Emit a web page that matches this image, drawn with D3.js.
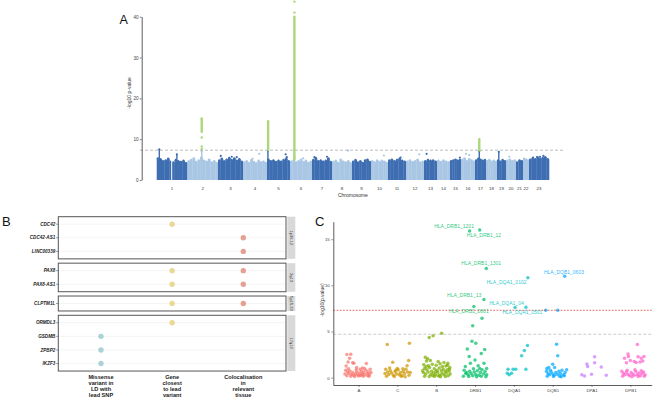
<!DOCTYPE html>
<html><head><meta charset="utf-8">
<script src="https://cdn.jsdelivr.net/npm/d3@7"></script>
<style>body{margin:0;background:#fff} svg{display:block;font-family:"Liberation Sans",Arial,Helvetica,sans-serif}</style>
</head><body><svg id="c" width="658" height="402"></svg>
<script>
// ================= Panel A data (Manhattan) =================
const chromosomes = ["1","2","3","4","5","6","7","8","9","10","11","12","13","14","15","16","17","18","19","20","21","22","23"];
// relative number of SNPs per chromosome (thousands), as read from block widths
const chromSnpK = [306,307,250,240,230,220,200,200,190,170,180,180,130,130,110,140,110,110,90,100,70,60,200];
// bulk of points: max -log10 p in consecutive bins along each chromosome
const bulkTop = [
  [5.3,5.1,4.6,4.8,5.2,4.5,4.3,4.9,4.6,4.4,4.7,4.1],
  [4.6,4.9,5.3,4.4,4.8,5.5,4.7,4.5,5.0,4.3,4.6,4.2],
  [4.8,5.2,4.6,5.0,5.4,4.9,5.3,4.7,5.1,4.5],
  [4.3,4.6,4.2,4.9,4.4,4.1,4.7,4.3,4.5,4.2],
  [5.0,4.6,4.8,4.4,4.7,4.5,4.9,5.2,4.6],
  [4.5,4.8,4.3,4.6,5.0,4.4,4.7,4.2,4.5],
  [4.9,5.4,4.6,4.8,4.5,4.7,5.3,4.4],
  [4.4,4.7,4.2,5.0,4.5,4.3,4.6,4.1],
  [4.5,4.9,4.3,4.6,4.2,4.8,5.0,4.4],
  [4.6,4.3,4.8,4.4,4.7,4.5,4.2],
  [4.8,5.0,4.6,4.9,5.2,4.7,4.5],
  [4.5,4.8,4.4,4.6,5.0,4.3,4.5],
  [4.6,4.9,4.7,4.8,4.5],
  [4.7,4.4,4.8,4.5,4.3],
  [4.6,4.8,5.0,4.7,4.9],
  [4.9,5.3,4.6,5.1,4.8,4.5],
  [4.8,5.2,5.0,4.7,4.9],
  [4.6,4.9,4.5,4.7,4.4],
  [4.8,4.5,4.9,4.6],
  [4.7,5.0,4.6,4.8],
  [4.3,4.8,4.6],
  [5.2,5.0,4.8],
  [5.0,5.3,5.1,5.5,5.2,5.4,5.6,5.1]
];
const centromereGaps = [[1,0.49]];
// narrow spikes in chromosome colour: [chr, fraction along chr, top]
const spikes = [[1,0.085,7.5],[1,0.66,6.3],[2,0.47,7.0],[5,0.04,7.2],[6,0.2,5.6],[17,0.39,7.0],[19,0.2,6.9]];
// isolated points above the bulk: [chr, fraction, value]
const outliers = [[3,0.11,5.9],[3,0.55,5.7],[3,0.75,5.6],[4,0.68,6.4],[4,0.4,5.2],[5,0.81,6.3],[5,0.86,5.6],[6,0.6,5.3],
  [7,0.12,5.6],[7,0.75,5.7],[8,0.8,7.2],[10,0.76,6.0],[11,0.7,5.5],[12,0.74,6.3],[13,0.2,6.4],[15,0.9,5.5],
  [16,0.36,6.4],[16,0.59,6.1],[20,0.33,5.7],[23,0.72,5.9],[23,0.2,5.5],[23,0.4,5.6],[23,0.55,5.7]];
// genome-wide significant columns (dense hits): [chr, fraction, min, max]
const hitRanges = [[2,0.47,11.8,15.1],[5,0.05,7.4,14.4],[6,0.2,5.0,40.0],[17,0.39,7.3,10.0]];
const hitDots = [[2,0.47,10.4],[2,0.47,8.2],[2,0.47,7.6],[6,0.2,41.0],[6,0.2,43.7]];
const gwasLineA = 7.3;
const yTicksA = [0,10,20,30,40];

// ================= Panel B data (gene prioritisation) =================
const genes = ["CDC42","CDC42-AS1","LINC00339","PAX8","PAX8-AS1","CLPTM1L","ORMDL3","GSDMB","ZPBP2","IKZF3"];
const loci = ["1p36.12","2q13","5p15.33","17q12"];
const geneLocus = [0,0,0,1,1,2,3,3,3,3];
const evidenceTypes = ["Missense variant in LD with lead SNP","Gene closest to lead variant","Colocalisation in relevant tissue"];
const evidenceLines = [["Missense","variant in","LD with","lead SNP"],["Gene","closest","to lead","variant"],["Colocalisation","in","relevant","tissue"]];
const evidence = [["CDC42",1],["CDC42-AS1",2],["LINC00339",2],["PAX8",1],["PAX8",2],["PAX8-AS1",1],["PAX8-AS1",2],
  ["CLPTM1L",1],["CLPTM1L",2],["ORMDL3",1],["GSDMB",0],["ZPBP2",0],["IKZF3",0]];
const evidenceColors = ["#a9d3d5","#e8d994","#e4a193"];

// ================= Panel C data (HLA alleles) =================
const hlaGenes = ["A","C","B","DRB1","DQA1","DQB1","DPA1","DPB1"];
const hlaColors = ["#F8766D","#CD9600","#7CAE00","#00BE67","#00BFC4","#00A9FF","#C77CFF","#FF61CC"];
const yTicksC = [0,5,10,15];
const redLineC = 7.3, greyLineC = 4.7;
// [jitter offset within gene, -log10 p]
const hlaA = [[-0.30,2.50],[-0.20,2.54],[-0.23,2.10],[-0.27,1.70],[-0.15,1.62],[-0.12,1.55],[0.20,1.52],[-0.32,1.25],[-0.05,1.10],[0.10,1.05],
 [-0.33,0.80],[-0.28,0.60],[-0.25,0.45],[-0.22,0.72],[-0.18,0.35],[-0.15,0.55],[-0.12,0.25],[-0.08,0.40],[-0.05,0.62],[-0.02,0.30],
 [0.02,0.50],[0.05,0.22],[0.08,0.70],[0.10,0.38],[0.13,0.55],[0.16,0.28],[0.19,0.80],[0.22,0.45],[0.25,0.60],[0.28,0.35],
 [0.30,0.90],[-0.30,0.20],[-0.20,0.15],[-0.10,0.12],[0.00,0.18],[0.12,0.14],[0.24,0.20],[-0.26,0.95],[0.15,0.98],[0.32,0.55],
 [-0.06,0.85],[0.04,0.92],[-0.35,0.40],[0.27,0.15],[0.07,0.30]];
const hlaC = [[-0.26,3.59],[0.31,3.73],[-0.12,1.67],[0.29,1.85],[0.25,1.30],[-0.30,0.90],[-0.25,0.60],[-0.22,0.35],[-0.18,0.75],[-0.15,0.50],
 [-0.10,0.25],[-0.06,0.65],[-0.02,0.40],[0.02,0.85],[0.05,0.30],[0.08,0.55],[0.12,0.20],[0.15,0.70],[0.18,0.45],[0.22,0.90],
 [0.26,0.60],[0.30,0.25],[-0.28,0.15],[-0.08,0.12],[0.10,0.15],[0.20,0.10],[-0.32,0.45],[0.00,1.00],[-0.20,1.05],[0.33,0.55],
 [-0.04,0.80],[0.14,0.95]];
const hlaB = [[-0.18,4.35],[-0.08,4.53],[0.14,4.82],[-0.28,2.20],[-0.22,2.05],[-0.25,1.80],[-0.15,1.85],[0.05,1.75],[0.20,1.65],[0.30,1.55],
 [-0.32,1.40],[-0.20,1.30],[-0.10,1.45],[0.00,1.35],[0.10,1.50],[0.25,1.25],[0.35,1.10],[-0.30,1.00],[-0.24,0.85],[-0.17,1.10],
 [-0.12,0.70],[-0.05,0.95],[0.02,0.80],[0.08,1.05],[0.13,0.75],[0.18,0.90],[0.23,0.65],[0.28,0.85],[0.33,0.70],[-0.33,0.55],
 [-0.27,0.40],[-0.21,0.60],[-0.14,0.35],[-0.07,0.50],[-0.02,0.30],[0.04,0.55],[0.09,0.25],[0.15,0.45],[0.20,0.30],[0.26,0.50],
 [0.31,0.20],[0.36,0.40],[-0.30,0.15],[-0.18,0.12],[-0.04,0.15],[0.11,0.10],[0.24,0.12],[-0.09,0.20],[0.06,0.18],[0.34,0.90],
 [-0.26,1.20],[0.16,1.20],[-0.01,0.65],[0.29,1.35],[-0.35,0.75]];
const hlaDRB1 = [[-0.14,15.9],[0.12,16.0],[0.29,11.84],[0.23,8.48],[-0.03,7.7],[0.18,6.43],[-0.06,5.63],
 [-0.08,3.95],[0.02,3.73],[-0.20,3.10],[0.25,3.05],[0.16,2.62],[-0.15,2.30],[0.00,1.90],[-0.12,1.56],[0.23,1.56],[-0.25,1.20],[0.08,1.30],[0.30,1.00],
 [-0.28,0.80],[-0.22,0.55],[-0.18,0.30],[-0.14,0.70],[-0.10,0.45],[-0.06,0.20],[-0.02,0.60],[0.02,0.35],[0.06,0.75],[0.10,0.25],
 [0.14,0.55],[0.18,0.85],[0.22,0.40],[0.26,0.65],[0.30,0.30],[-0.30,0.15],[-0.16,0.12],[0.04,0.10],[0.16,0.15],[0.28,0.10],
 [-0.04,0.95],[0.12,1.00],[-0.24,0.45]];
const hlaDQA1 = [[0.36,10.83],[0.03,7.6],[0.31,7.62],[0.35,3.48],[0.27,2.93],[0.20,2.36],[-0.15,0.9],[-0.02,0.9],[0.05,0.9],[0.31,0.9],
 [-0.17,0.47],[-0.06,0.47],[-0.12,0.30]];
const hlaDQB1 = [[0.31,11.0],[-0.18,7.3],[0.13,7.3],[0.10,3.62],[0.13,2.36],[0.00,1.45],[-0.10,1.09],[-0.15,1.00],[0.05,1.10],
 [-0.16,0.70],[-0.12,0.45],[-0.08,0.30],[-0.04,0.60],[0.00,0.40],[0.04,0.25],[0.08,0.55],[0.12,0.35],[0.16,0.70],[0.20,0.45],
 [0.24,0.80],[0.28,0.30],[0.32,0.55],[0.36,0.85],[-0.14,0.15],[0.02,0.12],[0.18,0.15],[0.30,0.20],[-0.06,0.80],[0.22,0.10]];
const hlaDPA1 = [[0.08,2.25],[-0.12,1.48],[0.08,1.60],[0.25,1.15],[-0.10,1.20],[-0.18,0.18],[0.00,0.36],[0.38,0.25],[-0.25,0.30]];
const hlaDPB1 = [[0.18,3.60],[-0.06,2.55],[-0.05,2.30],[0.20,2.25],[0.35,2.28],[0.28,2.10],[-0.15,2.10],[0.00,1.85],[0.10,1.75],
 [0.25,1.70],[-0.10,1.60],[0.32,1.80],[0.15,1.65],
 [-0.22,0.70],[-0.18,0.45],[-0.14,0.30],[-0.10,0.60],[-0.06,0.35],[-0.02,0.20],[0.02,0.55],[0.06,0.40],[0.10,0.25],[0.14,0.65],
 [0.18,0.30],[0.22,0.50],[0.26,0.20],[0.30,0.45],[0.34,0.60],[0.38,0.30],[-0.20,0.15],[0.04,0.10],[0.20,0.12],[0.36,0.15],
 [-0.08,0.80],[0.12,0.85],[0.28,0.75]];
const hlaPoints = [hlaA,hlaC,hlaB,hlaDRB1,hlaDQA1,hlaDQB1,hlaDPA1,hlaDPB1];
// labels (repelled positions): [text, gene index, offset, value]
const hlaLabels = [["HLA_DRB1_1201",3,-0.54,16.36],["HLA_DRB1_12",3,0.23,15.38],["HLA_DRB1_1301",3,0.16,12.35],
 ["HLA_DRB1_13",3,-0.28,8.92],["HLA_DRB1_0801",3,-0.16,7.19],["HLA_DQA1_0102",4,-0.19,10.36],["HLA_DQA1_04",4,-0.19,8.01],
 ["HLA_DQA1_0501",4,0.22,7.11],["HLA_DQB1_0603",5,0.29,11.45]];

// ================= Drawing =================
const svg = d3.select("#c");
svg.append("rect").attr("width",658).attr("height",402).attr("fill","#fff");
const font = "Liberation Sans, Arial, sans-serif";

// ---------- Panel A ----------
(function(){
  const g = svg.append("g");
  const total = d3.sum(chromSnpK);
  const starts = Array.from(d3.cumsum([0, ...chromSnpK])).slice(0,-1);
  const xA = d3.scaleLinear().domain([0,total]).range([156.7,549]);
  const yA = d3.scaleLinear().domain([0,40]).range([180,16.7]);
  const pos = (chr,f) => xA(starts[chr-1] + f*chromSnpK[chr-1]);
  const colDark="#3e6eb1", colLight="#a9c7e4", colHit="#acd67a";
  const chrColor = i => i%2===0 ? colDark : colLight;

  bulkTop.forEach((arr,i) => {
    const n = arr.length;
    arr.forEach((v,j) => {
      const x0 = pos(i+1,j/n), x1 = pos(i+1,(j+1)/n);
      g.append("rect").attr("x",x0).attr("width",x1-x0+0.3).attr("y",yA(v)).attr("height",yA(0)-yA(v)).attr("fill",chrColor(i));
      g.append("circle").attr("cx",(x0+x1)/2).attr("cy",yA(v)).attr("r",1.2).attr("fill",chrColor(i));
    });
  });
  centromereGaps.forEach(([c,f]) => {
    g.append("rect").attr("x",pos(c,f)-0.5).attr("width",1).attr("y",yA(8)).attr("height",yA(0)-yA(8)).attr("fill","#fff");
  });
  spikes.forEach(([c,f,t]) => {
    g.append("rect").attr("x",pos(c,f)-0.7).attr("width",1.4).attr("y",yA(t)).attr("height",yA(0)-yA(t)).attr("fill",chrColor(c-1));
    g.append("circle").attr("cx",pos(c,f)).attr("cy",yA(t)).attr("r",1.1).attr("fill",chrColor(c-1));
  });
  outliers.forEach(([c,f,v]) => {
    g.append("circle").attr("cx",pos(c,f)).attr("cy",yA(v)).attr("r",1.1).attr("fill",chrColor(c-1));
  });
  g.append("line").attr("x1",140).attr("x2",563).attr("y1",yA(gwasLineA)).attr("y2",yA(gwasLineA))
    .attr("stroke","#a0a0a0").attr("stroke-width",0.7).attr("stroke-dasharray","3,2");
  hitRanges.forEach(([c,f,lo,hi]) => {
    g.append("rect").attr("x",pos(c,f)-1.2).attr("width",2.4).attr("y",yA(hi)-1.2).attr("height",yA(lo)-yA(hi)+2.4)
      .attr("rx",1.2).attr("fill",colHit);
  });
  hitDots.forEach(([c,f,v]) => {
    g.append("circle").attr("cx",pos(c,f)).attr("cy",yA(v)).attr("r",1.2).attr("fill",colHit);
  });

  const ax = g.append("g").attr("transform","translate(141.7,0)")
    .call(d3.axisLeft(yA).tickValues(yTicksA).tickSize(2).tickSizeOuter(0).tickPadding(1.2));
  ax.select(".domain").attr("stroke","#333").attr("stroke-width",0.8);
  ax.selectAll(".tick line").attr("stroke","#333").attr("stroke-width",0.6);
  ax.selectAll(".tick text").attr("font-size",4.6).attr("fill","#444").attr("font-family",font);

  g.selectAll(".chrlab").data(chromosomes).join("text")
    .attr("x",(d,i)=>pos(i+1,0.5)).attr("y",189.8).attr("text-anchor","middle")
    .attr("font-size",4.4).attr("fill","#333").text(d=>d);
  g.append("text").attr("x",352.9).attr("y",197.3).attr("text-anchor","middle").attr("font-size",5).attr("fill","#333").text("Chromosome");
  g.append("text").attr("transform","translate(130.5,93) rotate(-90)").attr("text-anchor","middle")
    .attr("font-size",5).attr("fill","#333").text("-log10 p-value");
  svg.append("text").attr("x",119.5).attr("y",24).attr("font-size",12.5).attr("fill","#111").text("A");
})();

// ---------- Panel B ----------
(function(){
  const g = svg.append("g");
  const xB = d3.scalePoint().domain(evidenceTypes).range([58.3,286]).padding(0.6);
  const step = 13.6, pad = 0.55, gap = 4.3;
  let y0 = 216.7;
  const yOf = {};
  loci.forEach((loc,li) => {
    const gs = genes.filter((d,i)=>geneLocus[i]===li);
    const h = step*(gs.length-1+2*pad);
    const yS = d3.scalePoint().domain(gs).range([y0,y0+h]).padding(pad);
    gs.forEach(d => yOf[d] = yS(d));
    g.append("rect").attr("x",58.3).attr("y",y0).attr("width",286-58.3).attr("height",h).attr("fill","#fff");
    gs.forEach(d => {
      g.append("line").attr("x1",58.3).attr("x2",286).attr("y1",yS(d)).attr("y2",yS(d)).attr("stroke","#ededed").attr("stroke-width",0.6);
      g.append("line").attr("x1",56).attr("x2",58.3).attr("y1",yS(d)).attr("y2",yS(d)).attr("stroke","#444").attr("stroke-width",0.5);
      g.append("text").attr("x",55.3).attr("y",yS(d)+1.6).attr("text-anchor","end").attr("font-size",4.6)
        .attr("font-weight","bold").attr("font-style","italic").attr("fill","#222").text(d);
    });
    g.append("rect").attr("x",58.3).attr("y",y0).attr("width",286-58.3).attr("height",h).attr("fill","none")
      .attr("stroke","#555").attr("stroke-width",1);
    g.append("rect").attr("x",287.3).attr("y",y0).attr("width",8).attr("height",h).attr("fill","#d9d9d9");
    g.append("text").attr("transform",`translate(${291.3-1.4},${y0+h/2}) rotate(90)`).attr("text-anchor","middle")
      .attr("font-size",4).attr("fill","#333").text(loc);
    y0 += h + gap;
  });
  evidence.forEach(([gene,ei]) => {
    g.append("circle").attr("cx",xB(evidenceTypes[ei])).attr("cy",yOf[gene]).attr("r",2.7).attr("fill",evidenceColors[ei]);
  });
  evidenceTypes.forEach((e,ei) => {
    evidenceLines[ei].forEach((ln,k) => {
      g.append("text").attr("x",xB(e)).attr("y",379.3+k*6).attr("text-anchor","middle").attr("font-size",5.6)
        .attr("font-weight","bold").attr("fill","#222").text(ln);
    });
  });
  svg.append("text").attr("x",2).attr("y",225.5).attr("font-size",13).attr("fill","#111").text("B");
})();

// ---------- Panel C ----------
(function(){
  const g = svg.append("g");
  const xC = d3.scaleLinear().domain([-0.65,7.55]).range([333.3,651.7]);
  const yC = d3.scaleLinear().domain([-0.8,16.9]).range([385,221.7]);
  g.append("line").attr("x1",333.3).attr("x2",651.7).attr("y1",yC(greyLineC)).attr("y2",yC(greyLineC))
    .attr("stroke","#b5b5b5").attr("stroke-width",0.7).attr("stroke-dasharray","3,2");
  hlaPoints.forEach((pts,gi) => {
    g.selectAll(null).data(pts).join("circle")
      .attr("cx",d=>xC(gi+d[0])).attr("cy",d=>yC(d[1])).attr("r",1.75)
      .attr("fill",hlaColors[gi]).attr("fill-opacity",0.72);
  });
  g.append("line").attr("x1",333.3).attr("x2",651.7).attr("y1",yC(redLineC)).attr("y2",yC(redLineC))
    .attr("stroke","#e0473f").attr("stroke-width",0.8).attr("stroke-dasharray","1.8,1.4");
  hlaLabels.forEach(([t,gi,off,v]) => {
    g.append("text").attr("x",xC(gi+off)).attr("y",yC(v)+1.7).attr("text-anchor","middle").attr("font-size",5)
      .attr("fill",hlaColors[gi]).attr("fill-opacity",0.85).text(t);
  });
  const ay = g.append("g").attr("transform","translate(333.3,0)")
    .call(d3.axisLeft(yC).tickValues(yTicksC).tickSize(2).tickSizeOuter(0).tickPadding(1.5));
  const axb = g.append("g").attr("transform","translate(0,385)")
    .call(d3.axisBottom(xC).tickValues(d3.range(hlaGenes.length)).tickFormat(i=>hlaGenes[i]).tickSize(2).tickSizeOuter(0).tickPadding(1.5));
  [ay,axb].forEach(a => {
    a.select(".domain").attr("stroke","#333").attr("stroke-width",0.8);
    a.selectAll(".tick line").attr("stroke","#333").attr("stroke-width",0.5);
    a.selectAll(".tick text").attr("font-size",4.4).attr("fill","#444").attr("font-family",font);
  });
  g.append("text").attr("transform","translate(323.5,300) rotate(-90)").attr("text-anchor","middle")
    .attr("font-size",5).attr("fill","#333").text("-log10(p.value)");
  svg.append("text").attr("x",315).attr("y",225.5).attr("font-size",13).attr("fill","#111").text("C");
})();
</script></body></html>
